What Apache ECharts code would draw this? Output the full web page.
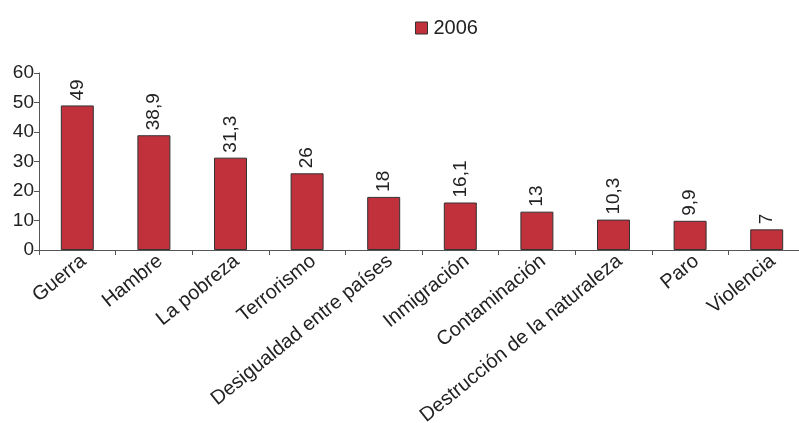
<!DOCTYPE html>
<html>
<head>
<meta charset="utf-8">
<script src="https://cdn.jsdelivr.net/npm/echarts@6/dist/echarts.min.js"></script>
<style>
  html, body { margin: 0; padding: 0; background: #fff; }
  #chart { width: 799px; height: 423px; }
</style>
</head>
<body>
<div id="chart"></div>
<script>
var categories = ['Guerra', 'Hambre', 'La pobreza', 'Terrorismo', 'Desigualdad entre países',
  'Inmigración', 'Contaminación', 'Destrucción de la naturaleza', 'Paro', 'Violencia'];
var values2006 = [49, 38.9, 31.3, 26, 18, 16.1, 13, 10.3, 9.9, 7];
var yTicks = [0, 10, 20, 30, 40, 50, 60];

var myChart = echarts.init(document.getElementById('chart'));
var font = 'Liberation Sans, Arial, sans-serif';
var option = {
  animation: false,
  legend: {
    top: 13,
    left: 410,
    icon: 'rect',
    itemWidth: 12,
    itemHeight: 12,
    itemGap: 8,
    itemStyle: { borderColor: '#333', borderWidth: 1 },
    textStyle: { fontFamily: font, fontSize: 20, color: '#222', padding: [0, 0, 0, 1] },
    data: ['2006']
  },
  grid: { left: 39, top: 73, width: 766, bottom: 173, containLabel: false, outerBoundsMode: 'none' },
  xAxis: {
    type: 'category',
    data: categories,
    axisLine: { lineStyle: { color: '#555' } },
    axisTick: { show: true, length: 5, lineStyle: { color: '#555' } },
    axisLabel: {
      rotate: 39, interval: 0, margin: 1,
      align: 'right', verticalAlign: 'top',
      fontFamily: font, fontSize: 20, color: '#222'
    }
  },
  yAxis: {
    type: 'value',
    min: yTicks[0],
    max: yTicks[yTicks.length - 1],
    interval: 10,
    splitLine: { show: false },
    axisLine: { show: true, lineStyle: { color: '#555' } },
    axisTick: { show: true, length: 5, lineStyle: { color: '#555' } },
    axisLabel: { margin: 5, fontFamily: font, fontSize: 19, color: '#222' }
  },
  series: [{
    name: '2006',
    type: 'bar',
    barWidth: 33,
    data: values2006,
    itemStyle: { color: '#c1313c', borderColor: '#333', borderWidth: 1 },
    label: {
      show: true,
      position: 'top',
      rotate: 90,
      align: 'left',
      verticalAlign: 'middle',
      distance: 5,
      fontFamily: font,
      fontSize: 19,
      color: '#222',
      formatter: function (p) { return String(p.value).replace('.', ','); }
    }
  }]
};
myChart.setOption(option);
</script>
</body>
</html>
